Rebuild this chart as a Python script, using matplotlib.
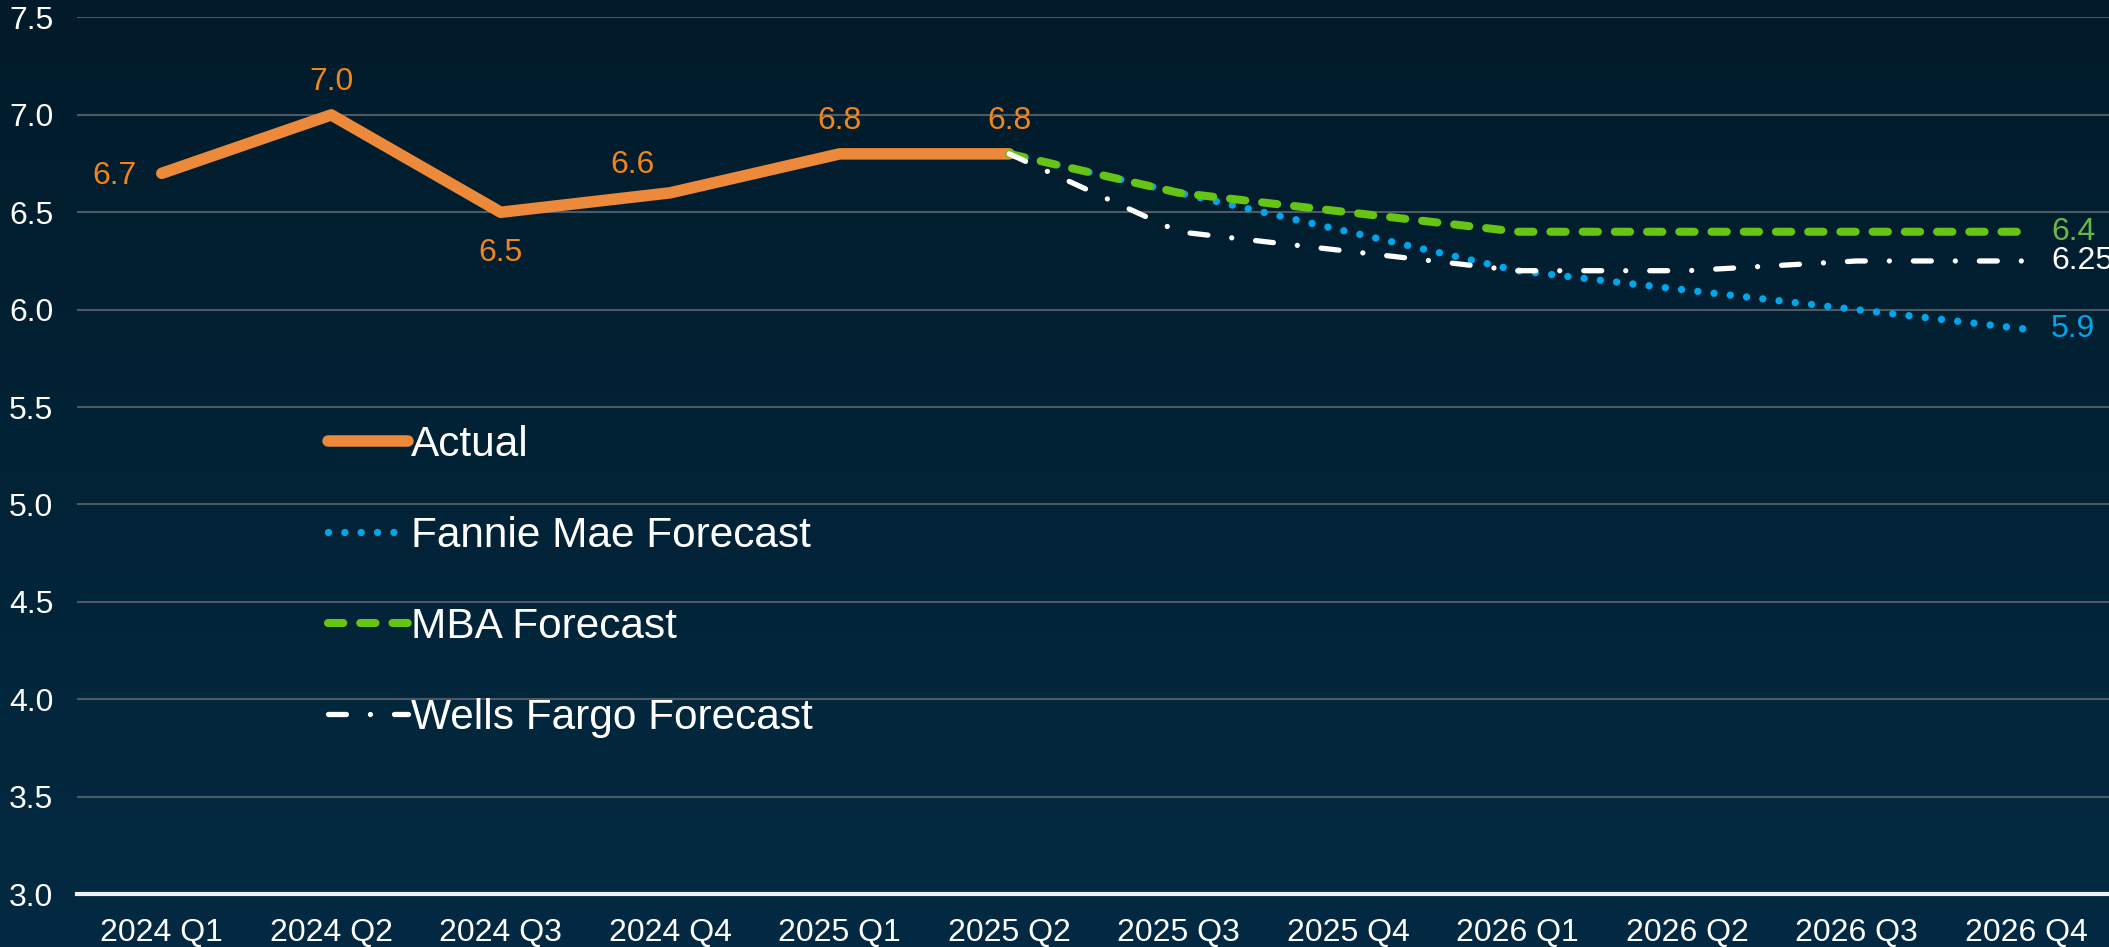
import numpy as np
import matplotlib
matplotlib.use("Agg")
import matplotlib.pyplot as plt

plt.rcParams.update({
    "font.family": ["Liberation Sans", "DejaVu Sans"],
    "font.size": 23,
})

quarters = ['2024 Q1', '2024 Q2', '2024 Q3', '2024 Q4', '2025 Q1', '2025 Q2',
            '2025 Q3', '2025 Q4', '2026 Q1', '2026 Q2', '2026 Q3', '2026 Q4']
actual = [6.7, 7.0, 6.5, 6.6, 6.8, 6.8]
# forecasts start from the last actual quarter (2025 Q2)
fannie = [6.8, 6.6, 6.4, 6.2, 6.1, 6.0, 5.9]
mba = [6.8, 6.6, 6.5, 6.4, 6.4, 6.4, 6.4]
wells = [6.8, 6.4, 6.3, 6.2, 6.2, 6.25, 6.25]
end_labels = ['5.9', '6.4', '6.25']

c_orange = '#EC893A'
c_orange_txt = '#F08519'
c_blue = '#00A6EA'
c_green = '#66C414'
c_green_txt = '#6BB84A'
c_white = '#FFFFFF'

W, H = 2109, 947
fig = plt.figure(figsize=(W / 100, H / 100), dpi=100)

# background gradient
bg = fig.add_axes([0, 0, 1, 1], zorder=-10)
grad = np.linspace(0, 1, 256).reshape(-1, 1)
top = np.array([0x01, 0x1B, 0x2A]) / 255
bot = np.array([0x03, 0x2A, 0x42]) / 255
img = top + (bot - top) * grad[:, :, None]
bg.imshow(img, aspect='auto', extent=[0, 1, 0, 1])
bg.axis('off')

ax = fig.add_axes([77 / W, (H - 894) / H, (2111 - 77) / W, (894 - 17.5) / H])
ax.set_facecolor('none')

x = np.arange(len(quarters))
xa = x[:len(actual)]
xf = x[len(actual) - 1:]

ax.plot(xa, actual, color=c_orange, lw=8.3, solid_capstyle='round',
        solid_joinstyle='round', label='Actual', zorder=3)
ax.plot(xf, fannie, color=c_blue, lw=5.3, linestyle=(0, (0.001, 2.22)),
        dash_capstyle='round', label='Fannie Mae Forecast', zorder=4)
ax.plot(xf, mba, color=c_green, lw=5.8, linestyle=(0, (1.9, 2.1)),
        dash_capstyle='round', label='MBA Forecast', zorder=5)
ax.plot(xf, wells, color=c_white, lw=3.8, linestyle=(0, (3.4, 4.55, 0.001, 4.55)),
        dash_capstyle='round', label='Wells Fargo Forecast', zorder=6)

# data labels on actual series
offsets = [(-18, -2, 'right'), (0, 24, 'center'), (0, -29, 'center'),
           (-27, 20, 'center'), (0, 24, 'center'), (0, 24, 'center')]
for xi, v, (dx, dy, ha) in zip(xa, actual, offsets):
    ax.annotate(f'{v:.1f}', (xi, v), xytext=(dx, dy), textcoords='offset points',
                ha=ha, va='center', color=c_orange_txt, fontsize=23)

# end labels for forecasts
for series, lab, col in zip([fannie, mba, wells], end_labels,
                            [c_blue, c_green_txt, c_white]):
    ax.annotate(lab, (xf[-1], series[-1]), xytext=(18, 0), textcoords='offset points',
                ha='left', va='center', color=col, fontsize=23, annotation_clip=False)

ax.set_xlim(-0.5, len(quarters) - 0.5)
ax.set_ylim(3.0, 7.5)
ax.set_yticks(np.arange(3.0, 7.51, 0.5))
ax.set_yticklabels([f'{v:.1f}' for v in np.arange(3.0, 7.51, 0.5)])
ax.set_xticks(x)
ax.set_xticklabels(quarters)
ax.tick_params(axis='both', length=0, colors=c_white, labelsize=23)
ax.tick_params(axis='y', pad=17)
ax.tick_params(axis='x', pad=17)

ax.grid(axis='y', color='#4F5965', lw=1.5, zorder=1)
ax.set_axisbelow(True)
for s in ['top', 'right', 'left']:
    ax.spines[s].set_visible(False)
ax.spines['bottom'].set_color('#EEF2F5')
ax.spines['bottom'].set_linewidth(3)
ax.spines['bottom'].set_zorder(2)

leg = ax.legend(loc='upper left', bbox_to_anchor=(328 / W, 1 - 425 / H),
                bbox_transform=fig.transFigure, frameon=False, fontsize=30.5,
                handlelength=1.9, handletextpad=0.05, labelspacing=1.2,
                borderpad=0, borderaxespad=0)
for t in leg.get_texts():
    t.set_color(c_white)

fig.savefig('out.png', dpi=100)
